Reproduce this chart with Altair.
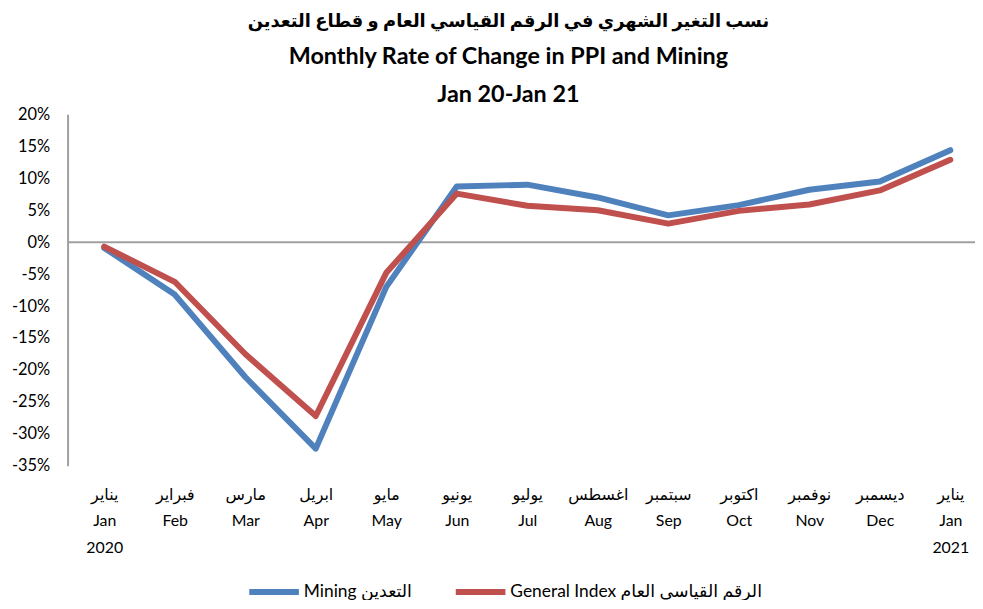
import altair as alt
import pandas as pd

# ---- data ----
months_ar = ["يناير", "فبراير", "مارس", "ابريل", "مايو", "يونيو", "يوليو",
             "اغسطس", "سبتمبر", "اكتوبر", "نوفمبر", "ديسمبر", "يناير"]
months_en = ["Jan", "Feb", "Mar", "Apr", "May", "Jun", "Jul",
             "Aug", "Sep", "Oct", "Nov", "Dec", "Jan"]
years = ["2020", "", "", "", "", "", "", "", "", "", "", "", "2021"]

mining = [-0.9, -8.2, -21.1, -32.3, -7.0, 8.7, 9.0, 7.0, 4.2, 5.8, 8.2, 9.5, 14.4]
general = [-0.7, -6.2, -17.5, -27.2, -4.8, 7.6, 5.7, 5.0, 2.9, 4.9, 5.9, 8.1, 12.9]

series_names = ["Mining التعدين", "General Index الرقم القياسي العام"]
colors = ["#4F81BD", "#C0504D"]
y_ticks = [20, 15, 10, 5, 0, -5, -10, -15, -20, -25, -30, -35]

title_ar = "نسب التغير الشهري في الرقم القياسي العام و قطاع التعدين"
title_en = ["Monthly Rate of Change  in PPI and Mining", "Jan 20-Jan 21"]

rows = []
for name, vals in zip(series_names, [mining, general]):
    for i, v in enumerate(vals):
        rows.append({"idx": i, "value": v, "series": name})
df = pd.DataFrame(rows)

FONT = "Lato, DejaVu Sans, sans-serif"

label_arr = "[" + ",".join(
    "['%s','%s','%s']" % (a, e, y) for a, e, y in zip(months_ar, months_en, years)
) + "]"

x = alt.X("idx:Q",
          scale=alt.Scale(domain=[-0.52, 12.35], nice=False, zero=False),
          axis=alt.Axis(values=list(range(13)), labelExpr=label_arr + "[datum.value]",
                        title=None, domain=False, ticks=False, grid=False,
                        labelFont=FONT, labelFontSize=16, labelColor="#000000",
                        labelPadding=21, labelLineHeight=26.5, labelBaseline="top",
                        labelOverlap=False, labelFlush=False))

y_axis = alt.Axis(values=y_ticks, labelExpr="datum.value + '%'", title=None,
                  grid=False, ticks=False, domainColor="#A0A0A0", domainWidth=2,
                  labelFont=FONT, labelFontSize=16.5, labelColor="#000000",
                  labelPadding=18)
y_scale = alt.Scale(domain=[-35, 20], nice=False)

zero = alt.Chart(pd.DataFrame({"z": [0]})).mark_rule(color="#A0A0A0", strokeWidth=2).encode(
    y=alt.Y("z:Q", scale=y_scale, axis=y_axis))

lines = alt.Chart(df).mark_line(strokeWidth=6, strokeCap="round", strokeJoin="round").encode(
    x=x,
    y=alt.Y("value:Q", scale=y_scale, axis=y_axis),
    color=alt.Color("series:N",
                    scale=alt.Scale(domain=series_names, range=colors),
                    legend=alt.Legend(title=None, orient="none", direction="horizontal",
                                      legendX=180, legendY=453,
                                      symbolType="stroke", symbolStrokeWidth=6,
                                      symbolSize=2500, labelFont=FONT, labelFontSize=17.5,
                                      labelColor="#000000", columnPadding=32,
                                      labelLimit=400, labelOffset=2)),
    order=alt.Order("idx:Q"))

chart = alt.layer(zero, lines).properties(
    width=914, height=354,
    autosize=alt.AutoSizeParams(type="none"),
    padding={"left": 60, "top": 105, "right": 0, "bottom": 133},
    title=alt.Title(title_ar, font=FONT, fontSize=18, fontWeight="bold",
                    color="#000000", anchor="middle", dx=-13, offset=0,
                    subtitle=title_en, subtitleFont=FONT, subtitleFontSize=23.5,
                    subtitleFontWeight="bold", subtitleColor="#000000",
                    subtitleLineHeight=38, subtitlePadding=15),
).configure_view(stroke=None)

chart.save("out.html", embed_options={"renderer": "svg", "actions": False})
